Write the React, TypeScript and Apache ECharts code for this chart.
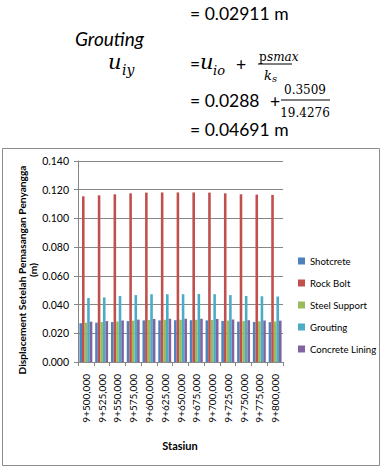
import React, { useEffect, useRef } from "react";
import * as echarts from "echarts";

const categories = [
  "9+500,000", "9+525,000", "9+550,000", "9+575,000", "9+600,000", "9+625,000",
  "9+650,000", "9+675,000", "9+700,000", "9+725,000", "9+750,000", "9+775,000", "9+800,000",
];
const shotcrete = [0.0270, 0.0274, 0.0278, 0.0285, 0.0290, 0.0290, 0.0291, 0.0291, 0.0290, 0.0286, 0.0281, 0.0279, 0.0278];
const rockBolt = [0.1154, 0.1161, 0.1168, 0.1175, 0.1180, 0.1181, 0.1181, 0.1181, 0.1180, 0.1175, 0.1168, 0.1166, 0.1164];
const steelSupport = [0.0274, 0.0278, 0.0282, 0.0288, 0.0293, 0.0294, 0.0294, 0.0294, 0.0293, 0.0289, 0.0285, 0.0283, 0.0282];
const grouting = [0.0446, 0.0450, 0.0460, 0.0466, 0.0472, 0.0472, 0.0472, 0.0474, 0.0472, 0.0466, 0.0460, 0.0458, 0.0456];
const concreteLining = [0.0281, 0.0285, 0.0289, 0.0295, 0.0300, 0.0301, 0.0301, 0.0301, 0.0300, 0.0296, 0.0291, 0.0289, 0.0288];

const seriesNames = ["Shotcrete", "Rock Bolt", "Steel Support", "Grouting", "Concrete Lining"];
const seriesData = [shotcrete, rockBolt, steelSupport, grouting, concreteLining];
const colors = ["#4F81BD", "#C0504D", "#9BBB59", "#4BACC6", "#8064A2"];

const FONT = "Lato, 'Open Sans', sans-serif";
const MATH = "'DejaVu Serif', 'Liberation Serif', serif";

export default function App() {
  const ref = useRef<HTMLDivElement>(null);
  useEffect(() => {
    if (!ref.current) return;
    const chart = echarts.init(ref.current, null, { renderer: "svg" });
    const t = (text: string, x: number, y: number, size: number, extra: any = {}) => ({
      type: "text",
      x,
      y,
      style: {
        text,
        fontSize: size,
        fontFamily: FONT,
        fill: "#000",
        verticalAlign: "middle",
        align: "left",
        ...extra,
      },
    });
    chart.setOption({
      animation: false,
      backgroundColor: "#fff",
      color: colors,
      grid: { left: 78, top: 161, width: 205, height: 201, containLabel: false },
      legend: {
        orient: "vertical",
        left: 293,
        top: 250,
        itemWidth: 7,
        itemHeight: 7,
        itemGap: 10,
        icon: "rect",
        data: seriesNames,
        textStyle: { fontSize: 9.6, fontFamily: FONT, color: "#000", lineHeight: 12 },
      },
      xAxis: {
        type: "category",
        data: categories,
        axisLine: { lineStyle: { color: "#868686" } },
        axisTick: { show: true, length: 4, lineStyle: { color: "#868686" } },
        axisLabel: { rotate: 90, fontSize: 10, fontFamily: FONT, color: "#000", margin: 12, interval: 0 },
      },
      yAxis: {
        type: "value",
        min: 0,
        max: 0.14,
        interval: 0.02,
        axisLine: { show: true, lineStyle: { color: "#868686" } },
        axisTick: { show: true, length: 4, lineStyle: { color: "#868686" } },
        splitLine: { lineStyle: { color: "#868686" } },
        axisLabel: {
          fontSize: 10.5,
          fontFamily: FONT,
          color: "#000",
          margin: 9,
          formatter: (v: number) => v.toFixed(3),
        },
      },
      series: seriesNames.map((name, i) => ({
        name,
        type: "bar",
        data: seriesData[i],
        barGap: "0%",
        barCategoryGap: "18%",
        itemStyle: { color: colors[i] },
      })),
      graphic: [
        {
          type: "rect",
          shape: { x: 2.5, y: 148.5, width: 377, height: 317 },
          style: { fill: "none", stroke: "#8c8c8c", lineWidth: 1 },
          silent: true,
        },
        t("= 0.02911 m", 190, 13, 17.5),
        t("Grouting", 75, 38, 19, { fontStyle: "italic" }),
        t("u", 108, 62, 21, { fontFamily: MATH, fontStyle: "italic" }),
        t("iy", 122, 70, 14, { fontFamily: MATH, fontStyle: "italic" }),
        t("=", 190, 63, 17.5),
        t("u", 200, 62, 21, { fontFamily: MATH, fontStyle: "italic" }),
        t("io", 213, 70, 13, { fontFamily: MATH, fontStyle: "italic" }),
        t("+", 236, 64, 17.5),
        t("p", 259, 57, 12, { fontFamily: MATH }),
        t("smax", 267, 57, 12, { fontFamily: MATH, fontStyle: "italic" }),
        {
          type: "line",
          shape: { x1: 258, y1: 64, x2: 292, y2: 64 },
          style: { stroke: "#000", lineWidth: 1 },
        },
        t("k", 264, 75, 13, { fontFamily: MATH, fontStyle: "italic" }),
        t("s", 272, 78, 10, { fontFamily: MATH, fontStyle: "italic" }),
        t("= 0.0288", 190, 100, 17.5),
        t("+", 270, 101, 17.5),
        t("0.3509", 305, 90, 12, { fontFamily: MATH, align: "center" }),
        {
          type: "line",
          shape: { x1: 281, y1: 100, x2: 330, y2: 100 },
          style: { stroke: "#000", lineWidth: 1 },
        },
        t("19.4276", 305, 113, 12, { fontFamily: MATH, align: "center" }),
        t("= 0.04691 m", 190, 129, 17.5),
        {
          type: "text",
          x: 27,
          y: 270,
          rotation: Math.PI / 2,
          style: {
            text: "Displacement Setelah Pemasangan Penyangga\n(m)",
            fontSize: 10.2,
            fontWeight: "bold",
            fontFamily: FONT,
            fill: "#000",
            align: "center",
            verticalAlign: "middle",
            lineHeight: 11,
          },
        },
        t("Stasiun", 180, 445, 11, { fontWeight: "bold", align: "center" }),
      ],
    });
    return () => chart.dispose();
  }, []);
  return (
    <div
      ref={ref}
      style={{ position: "fixed", left: 0, top: 0, width: 387, height: 471, background: "#fff" }}
    />
  );
}
